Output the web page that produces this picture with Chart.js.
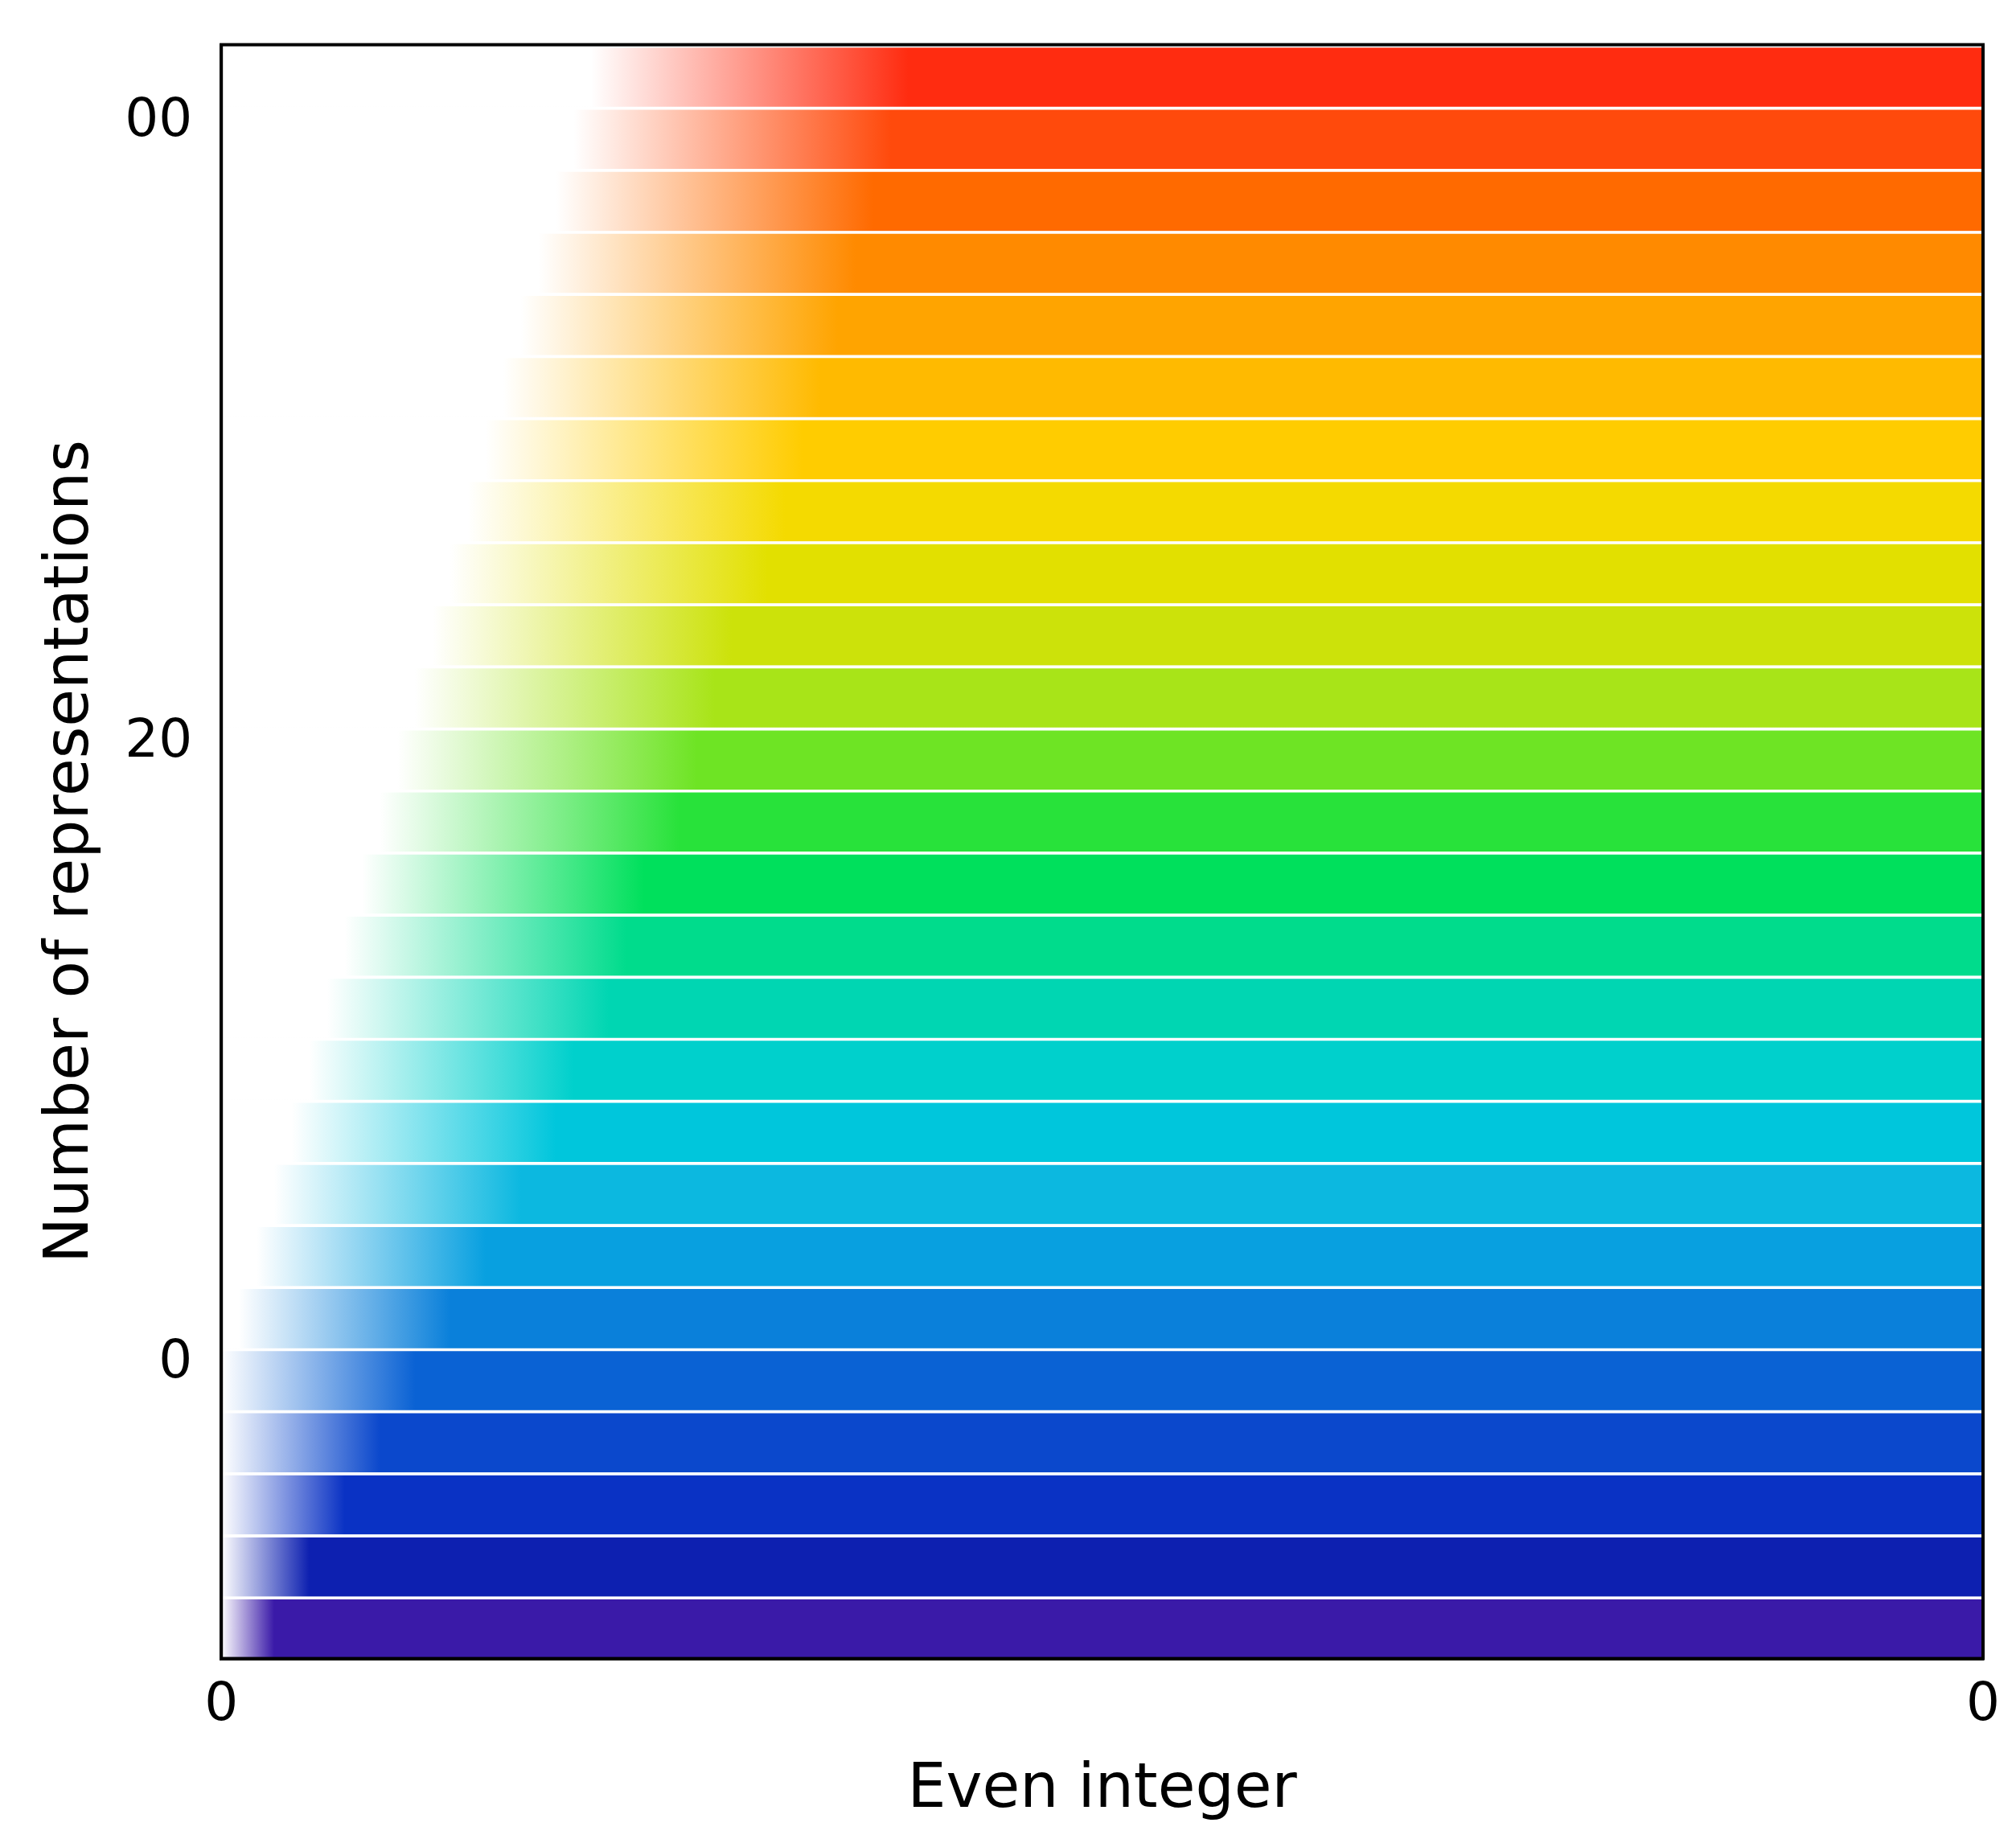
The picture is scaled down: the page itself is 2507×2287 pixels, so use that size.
<!DOCTYPE html>
<html>
<head>
<meta charset="UTF-8">
<title>Representations</title>
<script src="https://cdn.jsdelivr.net/npm/chart.js"></script>
<style>
  html, body { margin: 0; padding: 0; background: #fff; }
  #wrap { width: 2507px; height: 2287px; }
</style>
</head>
<body>
<div id="wrap"><canvas id="chart"></canvas></div>
<script>
// band centres (y value), bottom to top
const bandCenters = [-8.5,-6.5,-4.5,-2.5,-0.5,1.5,3.5,5.5,7.5,9.5,11.5,13.5,15.5,17.5,19.5,21.5,23.5,25.5,27.5,29.5,31.5,33.5,35.5,37.5,39.5,41.5];
// colour of each band
const bandColors = ['#3a1aa8','#0d20b0','#0a32c4','#0b48cc','#0a62d4','#0a80da','#08a0e0','#0cb8e0','#00c6dc','#00d0cc','#00d6b2','#00dc8c','#00e05c','#28e23a','#6ee424','#a8e418','#cce20a','#e2e000','#f4da00','#ffcc00','#ffba00','#ffa400','#ff8a00','#ff6a00','#ff4a0c','#ff2c10'];
// where the white fade ends (x units) and how long the fade runs
const whiteEnd = [0,0,0,0,0,1,2,3,4,5,6,7,8,9,10,11,12,13,14,15,16,17,18,19,20,21];
const fadeLen  = [3,5,7,9,11,12,13,14,15,15,16,16,16,17,17,17,17,18,18,18,18,18,18,18,18,18];
const xTickVals = [0, 100];
const xTickLabels = ['0', '0'];
const yTickVals = [0, 20, 40];
const yTickLabels = ['0', '20', '00'];

const ctx = document.getElementById('chart').getContext('2d');
new Chart(ctx, {
  type: 'bar',
  data: {
    datasets: [{
      data: bandCenters.map(y => ({ x: [0, 100], y: y })),
      backgroundColor: function(c) {
        const area = c.chart.chartArea;
        if (!area) return bandColors[c.dataIndex];
        const i = c.dataIndex;
        const g = c.chart.ctx.createLinearGradient(area.left, 0, area.right, 0);
        const col = bandColors[i];
        g.addColorStop(0, '#ffffff');
        g.addColorStop(whiteEnd[i] / 100, '#ffffff');
        g.addColorStop(Math.min(1, (whiteEnd[i] + fadeLen[i]) / 100), col);
        g.addColorStop(1, col);
        return g;
      },
      borderColor: 'rgba(255,255,255,0.35)',
      borderWidth: { top: 4, bottom: 0, left: 0, right: 0 },
      borderSkipped: false,
      barPercentage: 1,
      categoryPercentage: 1
    }]
  },
  options: {
    indexAxis: 'y',
    responsive: true,
    maintainAspectRatio: false,
    animation: false,
    layout: { padding: { top: 35, right: 40, left: 40, bottom: 10 } },
    plugins: { legend: { display: false }, tooltip: { enabled: false } },
    scales: {
      x: {
        type: 'linear', min: 0, max: 100,
        afterBuildTicks: s => { s.ticks = xTickVals.map(v => ({ value: v })); },
        ticks: {
          callback: (v, i) => xTickLabels[i],
          font: { family: 'DejaVu Sans', size: 66 }, color: '#000', padding: 20
        },
        grid: { display: false, drawTicks: false },
        border: { display: true, color: '#000', width: 4 },
        title: { display: true, text: 'Even integer', font: { family: 'DejaVu Sans', size: 76 }, color: '#000', padding: { top: 0 } }
      },
      y: {
        type: 'linear', min: -9.5, max: 42.5, offset: false,
        afterBuildTicks: s => { s.ticks = yTickVals.map(v => ({ value: v })); },
        ticks: {
          callback: (v, i) => yTickLabels[i],
          font: { family: 'DejaVu Sans', size: 66 }, color: '#000', padding: 16
        },
        grid: { display: false, tickLength: 20, tickColor: '#000', tickWidth: 4 },
        border: { display: true, color: '#000', width: 4 },
        title: { display: true, text: 'Number of representations', font: { family: 'DejaVu Sans', size: 76 }, color: '#000' }
      }
    }
  },
  plugins: [{
    id: 'frame',
    afterDatasetsDraw(chart) {
      const a = chart.chartArea, c = chart.ctx;
      c.save();
      c.strokeStyle = '#000';
      c.lineWidth = 4;
      c.strokeRect(a.left, a.top, a.right - a.left, a.bottom - a.top);
      c.restore();
    }
  }]
});
</script>
</body>
</html>
